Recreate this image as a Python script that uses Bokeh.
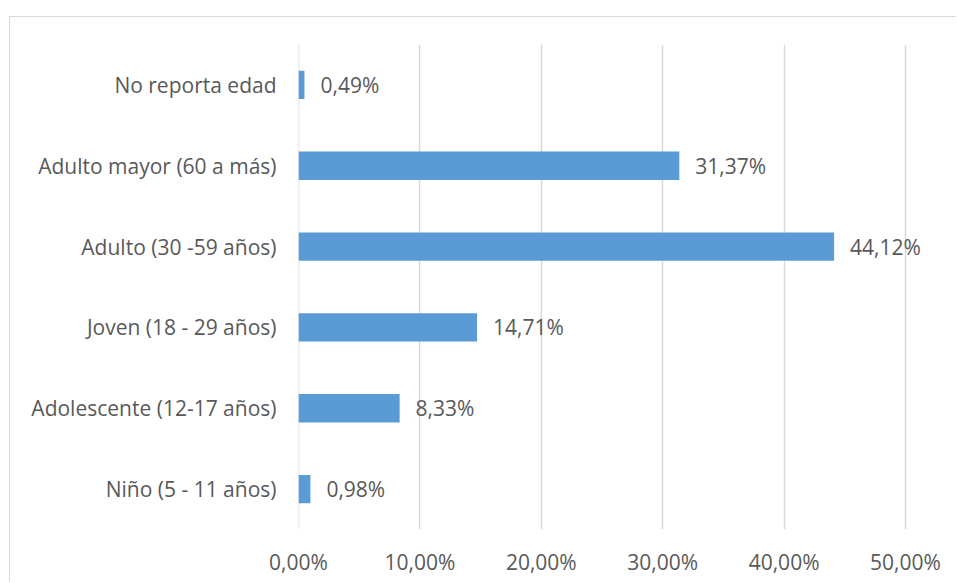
from bokeh.plotting import figure
from bokeh.models import ColumnDataSource, LabelSet, FixedTicker, FactorRange, Range1d, Span
from bokeh.core.properties import value
from bokeh.embed import file_html
from bokeh.resources import INLINE

# Age groups, listed from bottom to top of the chart
categories = [
    "Niño (5 - 11 años)",
    "Adolescente (12-17 años)",
    "Joven (18 - 29 años)",
    "Adulto (30 -59 años)",
    "Adulto mayor (60 a más)",
    "No reporta edad",
]
# Share of cases per age group, in percent
percentages = [0.98, 8.33, 14.71, 44.12, 31.37, 0.49]
tick_values = [0, 10, 20, 30, 40, 50]
tick_labels = ["0,00%", "10,00%", "20,00%", "30,00%", "40,00%", "50,00%"]

FONT = "Open Sans"
FONT_SIZE = "21px"
TEXT_COLOR = "#595959"
BAR_COLOR = "#5B9BD5"
GRID_COLOR = "#D9D9D9"

source = ColumnDataSource(dict(
    cat=categories,
    val=percentages,
    label=[f"{v:.2f}%".replace(".", ",") for v in percentages],
))

# the value range runs a little past 50 % so the outermost value label has room
p = figure(
    width=947, height=566,
    y_range=FactorRange(*categories, range_padding=0),
    x_range=Range1d(0, 53.79),
    output_backend="svg", toolbar_location=None,
    min_border_left=288, min_border_right=6,
    min_border_top=27, min_border_bottom=54,
)
# chart-area frame: only its left and top edges fall inside the page
p.styles = {
    "margin-left": "9px",
    "margin-top": "16px",
    "border-left": "1px solid #D9D9D9",
    "border-top": "1px solid #D9D9D9",
}
p.outline_line_color = None
p.background_fill_color = "white"
p.border_fill_color = "white"

p.hbar(y="cat", right="val", left=0, height=0.35, source=source,
       fill_color=BAR_COLOR, line_color=None)

labels = LabelSet(x="val", y="cat", text="label", source=source,
                  x_offset=16, text_baseline="middle", text_align="left",
                  text_font=value(FONT), text_font_size=FONT_SIZE,
                  text_color=TEXT_COLOR)
p.add_layout(labels)

p.xaxis.ticker = FixedTicker(ticks=tick_values)
p.xaxis.major_label_overrides = {v: l for v, l in zip(tick_values, tick_labels)}
p.xaxis.axis_line_color = None
p.xaxis.major_tick_line_color = None
p.xaxis.minor_tick_line_color = None
p.xaxis.major_label_standoff = 12
p.xaxis.major_label_text_font = FONT
p.xaxis.major_label_text_font_size = FONT_SIZE
p.xaxis.major_label_text_color = TEXT_COLOR

p.yaxis.axis_line_color = None
p.yaxis.major_tick_line_color = None
p.yaxis.major_label_standoff = 16
p.yaxis.major_label_text_font = FONT
p.yaxis.major_label_text_font_size = FONT_SIZE
p.yaxis.major_label_text_color = TEXT_COLOR

p.xgrid.grid_line_color = GRID_COLOR
p.xgrid.grid_line_width = 1.5
p.ygrid.grid_line_color = None
# gridline at the start of the value range, on the frame edge
p.add_layout(Span(location=tick_values[0], dimension="height",
                  line_color=GRID_COLOR, line_width=1.5, level="underlay"))

open("out.html", "w").write(file_html(p, INLINE))
